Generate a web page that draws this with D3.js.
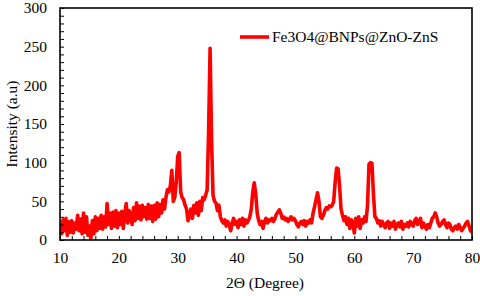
<!DOCTYPE html>
<html>
<head>
<meta charset="utf-8">
<script src="https://cdn.jsdelivr.net/npm/d3@7"></script>
<style>
  body { margin: 0; background: #fff; }
  svg text { font-family: "Times New Roman", "Liberation Serif", "DejaVu Serif", serif !important; fill: #000; }
</style>
</head>
<body>
<div id="chart"></div>
<script>
// XRD pattern, sampled every 0.25 degree from 10 to 80
const thetaStart = 10;
const thetaStep = 0.25;
const intensity = [
  22, 8, 26, 12,     // 10
  28, 6, 24, 10,     // 11
  25, 9, 22, 14,     // 12
  32, 12, 27, 8,     // 13
  35, 10, 30, 6,     // 14
  18, 2, 25, 8,      // 15
  30, 12, 28, 15,    // 16
  32, 14, 30, 17,    // 17
  47, 20, 35, 15,    // 18
  36, 18, 38, 16,    // 19
  35, 20, 37, 15,    // 20
  33, 47, 22, 38,    // 21
  30, 20, 42, 25,    // 22
  48, 28, 44, 26,    // 23
  45, 30, 42, 27,    // 24
  46, 28, 44, 24,    // 25
  45, 27, 48, 30,    // 26
  46, 35, 52, 40,    // 27
  55, 65, 62, 70,    // 28
  90, 50, 55, 75,    // 29
  108, 113, 62, 55,  // 30
  52, 45, 40, 25,    // 31
  32, 40, 28, 45,    // 32
  35, 48, 32, 50,    // 33
  38, 55, 52, 58,    // 34
  65, 140, 248, 130, // 35
  58, 50, 48, 38,    // 36
  45, 30, 25, 22,    // 37
  26, 18, 24, 20,    // 38
  12, 22, 28, 20,    // 39
  24, 16, 26, 20,    // 40
  28, 18, 26, 22,    // 41
  25, 30, 40, 62,    // 42
  74, 60, 35, 25,    // 43
  20, 24, 15, 24,    // 44
  28, 22, 26, 25,    // 45
  28, 24, 27, 33,    // 46
  36, 39, 35, 28,    // 47
  30, 26, 28, 24,    // 48
  27, 30, 26, 28,    // 49
  25, 20, 17, 22,    // 50
  24, 20, 25, 18,    // 51
  24, 22, 26, 22,    // 52
  35, 43, 52, 61,    // 53
  50, 30, 28, 32,    // 54
  38, 42, 40, 44,    // 55
  43, 45, 50, 75,    // 56
  93, 92, 70, 40,    // 57
  32, 25, 30, 20,    // 58
  28, 15, 26, 22,    // 59
  9, 28, 18, 30,     // 60
  15, 26, 22, 30,    // 61
  24, 45, 98, 100,   // 62
  99, 60, 30, 28,    // 63
  22, 25, 18, 24,    // 64
  20, 16, 22, 24,    // 65
  15, 22, 18, 24,    // 66
  14, 20, 22, 17,    // 67
  24, 14, 20, 18,    // 68
  22, 17, 24, 20,    // 69
  18, 25, 28, 20,    // 70
  24, 28, 16, 22,    // 71
  18, 14, 20, 16,    // 72
  22, 28, 30, 35,    // 73
  30, 22, 18, 20,    // 74
  24, 26, 20, 16,    // 75
  22, 20, 14, 12,    // 76
  16, 18, 14, 20,    // 77
  16, 12, 15, 18,    // 78
  22, 24, 18, 12,    // 79
  10                 // 80
];
const seriesName = "Fe3O4@BNPs@ZnO-ZnS";
const xTicks = [10, 20, 30, 40, 50, 60, 70, 80];
const yTicks = [0, 50, 100, 150, 200, 250, 300];

const data = intensity.map((v, i) => ({ t: thetaStart + i * thetaStep, v: v }));

const width = 480, height = 296;
const margin = { left: 60, right: 8, top: 8, bottom: 56 };
const serif = '"Times New Roman", "Liberation Serif", "DejaVu Serif", serif';

const svg = d3.select("#chart").append("svg")
    .attr("width", width)
    .attr("height", height)
    .style("font-family", serif);

const x = d3.scaleLinear().domain([10, 80]).range([margin.left, width - margin.right]);
const y = d3.scaleLinear().domain([0, 300]).range([height - margin.bottom, margin.top]);

svg.append("clipPath").attr("id", "clip")
  .append("rect")
    .attr("x", x(10)).attr("y", y(300))
    .attr("width", x(80) - x(10)).attr("height", y(0) - y(300));

// the pattern
svg.append("path")
    .datum(data)
    .attr("clip-path", "url(#clip)")
    .attr("fill", "none")
    .attr("stroke", "#ff0000")
    .attr("stroke-width", 3.6)
    .attr("stroke-linejoin", "round")
    .attr("d", d3.line().x(d => x(d.t)).y(d => y(d.v)));

// inward minor ticks
svg.append("g")
    .attr("transform", `translate(0,${y(0)})`)
    .call(d3.axisBottom(x).tickValues(d3.range(10, 81, 2)).tickSize(-4).tickFormat(""))
    .call(g => g.select(".domain").remove());
svg.append("g")
    .attr("transform", `translate(${x(10)},0)`)
    .call(d3.axisLeft(y).tickValues(d3.range(0, 301, 10)).tickSize(-4).tickFormat(""))
    .call(g => g.select(".domain").remove());

// tick labels
svg.append("g")
    .attr("transform", `translate(0,${y(0)})`)
    .call(d3.axisBottom(x).tickValues(xTicks).tickSize(0).tickPadding(12))
    .call(g => g.select(".domain").remove())
    .attr("font-family", null)
    .attr("font-size", 15.5);
svg.append("g")
    .attr("transform", `translate(${x(10)},0)`)
    .call(d3.axisLeft(y).tickValues(yTicks).tickSize(0).tickPadding(13))
    .call(g => g.select(".domain").remove())
    .attr("font-family", null)
    .attr("font-size", 15.5);

// frame
svg.append("rect")
    .attr("x", x(10)).attr("y", y(300))
    .attr("width", x(80) - x(10)).attr("height", y(0) - y(300))
    .attr("fill", "none")
    .attr("stroke", "#000")
    .attr("stroke-width", 1.6);

// axis titles
svg.append("text")
    .attr("x", (x(10) + x(80)) / 2 - 1)
    .attr("y", 288)
    .attr("text-anchor", "middle")
    .attr("font-size", 15.5)
    .text("2Θ (Degree)");

svg.append("text")
    .attr("transform", `translate(17,${(y(0) + y(300)) / 2}) rotate(-90)`)
    .attr("text-anchor", "middle")
    .attr("font-size", 15.5)
    .text("Intensity (a.u)");

// legend
svg.append("line")
    .attr("x1", 240).attr("x2", 269)
    .attr("y1", 37).attr("y2", 37)
    .attr("stroke", "#ff0000")
    .attr("stroke-width", 3.6);
svg.append("text")
    .attr("x", 272)
    .attr("y", 42)
    .attr("font-size", 15.5)
    .text(seriesName);
</script>
</body>
</html>
